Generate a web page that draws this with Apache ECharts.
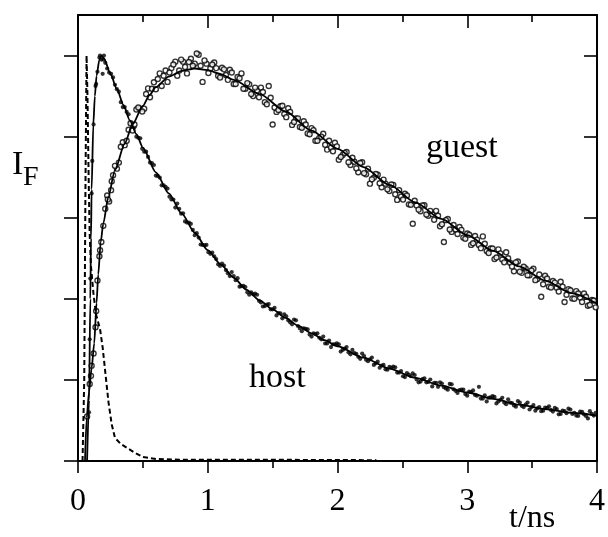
<!DOCTYPE html>
<html>
<head>
<meta charset="utf-8">
<script src="https://cdn.jsdelivr.net/npm/echarts@6/dist/echarts.min.js"></script>
<style>
  html, body { margin: 0; padding: 0; background: #fff; }
  #chart { width: 608px; height: 537px; }
</style>
</head>
<body>
<div id="chart"></div>
<script>
// Fluorescence decay of host and guest after pulsed excitation (t in ns).

// Channel times of the measured decays (two interleaved channel sets)
const sampleT = [
  0.09, 0.12, 0.15, 0.18, 0.21, 0.24, 0.27, 0.30, 0.33, 0.36, 0.39, 0.42, 0.45, 0.48, 0.51,
  0.54, 0.57, 0.60, 0.63, 0.66, 0.69, 0.72, 0.75, 0.78, 0.81, 0.84, 0.87, 0.90, 0.93, 0.96,
  0.99, 1.02, 1.05, 1.08, 1.11, 1.14, 1.17, 1.20, 1.23, 1.26, 1.29, 1.32, 1.35, 1.38, 1.41,
  1.44, 1.47, 1.50, 1.53, 1.56, 1.59, 1.62, 1.65, 1.68, 1.71, 1.74, 1.77, 1.80, 1.83, 1.86,
  1.89, 1.92, 1.95, 1.98, 2.01, 2.04, 2.07, 2.10, 2.13, 2.16, 2.19, 2.22, 2.25, 2.28, 2.31,
  2.34, 2.37, 2.40, 2.43, 2.46, 2.49, 2.52, 2.55, 2.58, 2.61, 2.64, 2.67, 2.70, 2.73, 2.76,
  2.79, 2.82, 2.85, 2.88, 2.91, 2.94, 2.97, 3.00, 3.03, 3.06, 3.09, 3.12, 3.15, 3.18, 3.21,
  3.24, 3.27, 3.30, 3.33, 3.36, 3.39, 3.42, 3.45, 3.48, 3.51, 3.54, 3.57, 3.60, 3.63, 3.66,
  3.69, 3.72, 3.75, 3.78, 3.81, 3.84, 3.87, 3.90, 3.93, 3.96, 3.99
];
const sampleT2 = [
  0.105, 0.135, 0.165, 0.195, 0.225, 0.255, 0.285, 0.315, 0.345, 0.375, 0.405, 0.435, 0.465, 0.495, 0.525,
  0.555, 0.585, 0.615, 0.645, 0.675, 0.705, 0.735, 0.765, 0.795, 0.825, 0.855, 0.885, 0.915, 0.945, 0.975,
  1.005, 1.035, 1.065, 1.095, 1.125, 1.155, 1.185, 1.215, 1.245, 1.275, 1.305, 1.335, 1.365, 1.395, 1.425,
  1.455, 1.485, 1.515, 1.545, 1.575, 1.605, 1.635, 1.665, 1.695, 1.725, 1.755, 1.785, 1.815, 1.845, 1.875,
  1.905, 1.935, 1.965, 1.995, 2.025, 2.055, 2.085, 2.115, 2.145, 2.175, 2.205, 2.235, 2.265, 2.295, 2.325,
  2.355, 2.385, 2.415, 2.445, 2.475, 2.505, 2.535, 2.565, 2.595, 2.625, 2.655, 2.685, 2.715, 2.745, 2.775,
  2.805, 2.835, 2.865, 2.895, 2.925, 2.955, 2.985, 3.015, 3.045, 3.075, 3.105, 3.135, 3.165, 3.195, 3.225,
  3.255, 3.285, 3.315, 3.345, 3.375, 3.405, 3.435, 3.465, 3.495, 3.525, 3.555, 3.585, 3.615, 3.645, 3.675,
  3.705, 3.735, 3.765, 3.795, 3.825, 3.855, 3.885, 3.915, 3.945, 3.975
];

// Host emission, normalised counts
const hostCounts = [
  0.30, 0.83, 0.96, 0.99, 0.982, 0.958, 0.946, 0.917, 0.885, 0.873, 0.855, 0.824, 0.800, 0.796, 0.763,
  0.750, 0.735, 0.704, 0.699, 0.680, 0.672, 0.645, 0.625, 0.622, 0.611, 0.588, 0.585, 0.557, 0.551, 0.533,
  0.533, 0.511, 0.505, 0.485, 0.487, 0.471, 0.456, 0.456, 0.451, 0.431, 0.429, 0.410, 0.411, 0.410, 0.391,
  0.382, 0.387, 0.374, 0.359, 0.364, 0.362, 0.347, 0.337, 0.347, 0.327, 0.327, 0.325, 0.307, 0.313, 0.304,
  0.307, 0.290, 0.281, 0.288, 0.288, 0.274, 0.281, 0.263, 0.266, 0.257, 0.265, 0.250, 0.251, 0.237, 0.245,
  0.235, 0.226, 0.232, 0.233, 0.218, 0.222, 0.207, 0.213, 0.216, 0.201, 0.196, 0.204, 0.195, 0.184, 0.193,
  0.194, 0.182, 0.176, 0.189, 0.173, 0.175, 0.176, 0.161, 0.170, 0.163, 0.183, 0.154, 0.147, 0.157, 0.158,
  0.147, 0.156, 0.140, 0.144, 0.137, 0.148, 0.136, 0.139, 0.127, 0.138, 0.130, 0.123, 0.132, 0.135, 0.122,
  0.128, 0.116, 0.123, 0.129, 0.116, 0.112, 0.122, 0.115, 0.105, 0.116, 0.119
];
const hostCounts2 = [
  0.66, 0.925, 0.995, 0.99, 0.968, 0.955, 0.928, 0.911, 0.873, 0.861, 0.834, 0.823, 0.797, 0.770, 0.763,
  0.736, 0.730, 0.703, 0.680, 0.676, 0.652, 0.645, 0.635, 0.610, 0.591, 0.588, 0.570, 0.562, 0.534, 0.532,
  0.515, 0.514, 0.498, 0.481, 0.482, 0.463, 0.466, 0.446, 0.430, 0.432, 0.416, 0.416, 0.413, 0.395, 0.381,
  0.386, 0.374, 0.378, 0.365, 0.352, 0.357, 0.342, 0.349, 0.333, 0.320, 0.326, 0.312, 0.315, 0.315, 0.300,
  0.290, 0.297, 0.288, 0.290, 0.270, 0.277, 0.268, 0.274, 0.264, 0.252, 0.259, 0.246, 0.255, 0.241, 0.230,
  0.237, 0.225, 0.230, 0.231, 0.218, 0.209, 0.217, 0.209, 0.212, 0.194, 0.202, 0.194, 0.201, 0.193, 0.183,
  0.191, 0.179, 0.190, 0.177, 0.168, 0.176, 0.165, 0.171, 0.174, 0.161, 0.154, 0.162, 0.156, 0.160, 0.142,
  0.151, 0.144, 0.152, 0.143, 0.134, 0.144, 0.133, 0.144, 0.133, 0.124, 0.133, 0.124, 0.131, 0.126, 0.131,
  0.115, 0.124, 0.118, 0.127, 0.119, 0.111, 0.121, 0.111, 0.123, 0.112
];

// Guest emission, normalised counts
const guestCounts = [
  0.19, 0.265, 0.445, 0.54, 0.622, 0.64, 0.705, 0.721, 0.775, 0.779, 0.817, 0.815, 0.867, 0.868, 0.869,
  0.919, 0.918, 0.917, 0.956, 0.95, 0.935, 0.969, 0.985, 0.963, 0.985, 0.956, 0.992, 0.98, 1.002, 0.935,
  0.98, 0.968, 0.983, 0.95, 0.97, 0.952, 0.965, 0.93, 0.947, 0.956, 0.918, 0.929, 0.90, 0.914, 0.921,
  0.885, 0.925, 0.83, 0.861, 0.875, 0.856, 0.87, 0.829, 0.845, 0.824, 0.838, 0.808, 0.821, 0.79, 0.797,
  0.807, 0.768, 0.773, 0.785, 0.743, 0.755, 0.762, 0.73, 0.738, 0.712, 0.737, 0.707, 0.684, 0.699, 0.706,
  0.675, 0.684, 0.666, 0.681, 0.644, 0.652, 0.659, 0.633, 0.585, 0.63, 0.616, 0.631, 0.605, 0.609, 0.617,
  0.579, 0.54, 0.597, 0.565, 0.571, 0.577, 0.551, 0.561, 0.533, 0.555, 0.533, 0.554, 0.518, 0.524, 0.498,
  0.522, 0.497, 0.515, 0.489, 0.468, 0.492, 0.464, 0.475, 0.458, 0.474, 0.449, 0.405, 0.457, 0.43, 0.444,
  0.427, 0.442, 0.392, 0.424, 0.401, 0.419, 0.403, 0.413, 0.383, 0.397, 0.379
];
const guestCounts2 = [
  0.235, 0.33, 0.505, 0.58, 0.655, 0.668, 0.728, 0.736, 0.786, 0.79, 0.833, 0.83, 0.872, 0.862, 0.905,
  0.897, 0.934, 0.942, 0.925, 0.963, 0.958, 0.978, 0.95, 0.99, 0.972, 0.984, 0.975, 1.005, 0.975, 0.988,
  0.957, 0.978, 0.969, 0.946, 0.966, 0.94, 0.958, 0.93, 0.944, 0.918, 0.932, 0.905, 0.921, 0.897, 0.91,
  0.88, 0.896, 0.872, 0.866, 0.876, 0.848, 0.861, 0.836, 0.845, 0.822, 0.83, 0.806, 0.816, 0.79, 0.80,
  0.78, 0.79, 0.764, 0.776, 0.75, 0.76, 0.737, 0.748, 0.722, 0.735, 0.71, 0.721, 0.695, 0.708, 0.685,
  0.694, 0.67, 0.682, 0.658, 0.668, 0.645, 0.655, 0.632, 0.642, 0.62, 0.63, 0.608, 0.617, 0.595, 0.605,
  0.584, 0.594, 0.571, 0.582, 0.56, 0.57, 0.548, 0.558, 0.537, 0.546, 0.525, 0.536, 0.513, 0.524, 0.502,
  0.512, 0.49, 0.50, 0.48, 0.49, 0.467, 0.479, 0.458, 0.47, 0.446, 0.46, 0.436, 0.45, 0.428, 0.44,
  0.418, 0.43, 0.41, 0.421, 0.40, 0.413, 0.392, 0.405, 0.385, 0.396
];

// Extra channels on the steep rising edges
const hostRise = [
  [0.085, 0.12], [0.095, 0.45], [0.11, 0.74], [0.14, 0.93], [0.17, 1.0], [0.19, 0.955], [0.2, 1.0]
];
const guestRise = [
  [0.07, 0.11], [0.1, 0.21], [0.14, 0.37], [0.17, 0.52], [0.23, 0.645], [0.26, 0.69]
];

// Fitted decay curves
const hostFit = [
  [0.07, 0], [0.085, 0.15], [0.095, 0.4], [0.1, 0.55], [0.105, 0.67], [0.118, 0.83], [0.13, 0.9],
  [0.143, 0.95], [0.165, 0.99], [0.18, 1.0], [0.2, 0.993], [0.25, 0.955], [0.3, 0.917], [0.35, 0.878],
  [0.4, 0.84], [0.45, 0.806], [0.5, 0.773], [0.6, 0.712], [0.7, 0.66], [0.8, 0.61], [0.9, 0.563],
  [1.0, 0.52], [1.1, 0.485], [1.2, 0.452], [1.3, 0.422], [1.4, 0.396], [1.5, 0.374], [1.6, 0.353],
  [1.7, 0.333], [1.8, 0.315], [1.9, 0.298], [2.0, 0.283], [2.2, 0.255], [2.4, 0.228], [2.6, 0.205],
  [2.8, 0.186], [3.0, 0.169], [3.2, 0.153], [3.4, 0.139], [3.6, 0.128], [3.8, 0.119], [4.0, 0.112]
];
const guestFit = [
  [0.054, 0], [0.067, 0.106], [0.085, 0.17], [0.105, 0.229], [0.125, 0.29], [0.143, 0.39],
  [0.156, 0.46], [0.175, 0.54], [0.195, 0.586], [0.233, 0.65], [0.284, 0.717], [0.36, 0.783],
  [0.42, 0.83], [0.5, 0.876], [0.55, 0.902], [0.6, 0.922], [0.7, 0.948], [0.8, 0.962], [0.9, 0.968],
  [1.0, 0.964], [1.1, 0.954], [1.2, 0.94], [1.4, 0.905], [1.6, 0.862], [1.8, 0.815], [2.0, 0.77],
  [2.2, 0.725], [2.4, 0.681], [2.6, 0.638], [2.8, 0.597], [3.0, 0.557], [3.2, 0.518], [3.4, 0.48],
  [3.6, 0.445], [3.8, 0.414], [4.0, 0.388]
];

// Instrument response (excitation pulse)
const pulse = [
  [0.035, 0], [0.048, 0.2], [0.058, 0.7], [0.066, 1.0], [0.073, 0.9], [0.082, 0.7], [0.09, 0.56],
  [0.1, 0.48], [0.12, 0.41], [0.14, 0.36], [0.17, 0.325], [0.19, 0.28], [0.21, 0.22], [0.235, 0.145],
  [0.26, 0.09], [0.285, 0.057], [0.33, 0.042], [0.38, 0.032], [0.44, 0.02], [0.5, 0.01], [0.6, 0.005],
  [0.8, 0.003], [1.5, 0.003], [2.3, 0.002]
];

// Tick positions on the intensity axis
const yTicks = [0, 0.2, 0.4, 0.6, 0.8, 1.0];

const pairUp = (ts, vs) => ts.map((t, i) => [t, vs[i]]);
const hostPoints = pairUp(sampleT, hostCounts).concat(pairUp(sampleT2, hostCounts2), hostRise);
const guestPoints = pairUp(sampleT, guestCounts).concat(pairUp(sampleT2, guestCounts2), guestRise);

const serif = 'Liberation Serif';
const ink = '#000';

const chart = echarts.init(document.getElementById('chart'), null, { renderer: 'canvas' });

const xCommon = {
  type: 'value', min: 0, max: 4, interval: 1,
  axisLine: { show: true, onZero: false, lineStyle: { color: ink, width: 2 } },
  splitLine: { show: false },
  minorSplitLine: { show: false }
};
const yCommon = {
  type: 'value', min: 0, max: 1.1,
  axisLine: { show: true, onZero: false, lineStyle: { color: ink, width: 2 } },
  axisLabel: { show: false },
  splitLine: { show: false }
};

chart.setOption({
  animation: false,
  backgroundColor: '#fff',
  grid: { left: 78, right: 8, top: 15, bottom: 76 },
  xAxis: [
    Object.assign({}, xCommon, {
      position: 'bottom',
      axisTick: { show: true, inside: false, length: 12, lineStyle: { color: ink, width: 1.6 } },
      minorTick: { show: true, splitNumber: 2, length: 7, lineStyle: { color: ink, width: 1.6 } },
      axisLabel: { show: true, color: ink, fontFamily: serif, fontSize: 32, margin: 25 }
    }),
    Object.assign({}, xCommon, {
      position: 'top',
      axisTick: { show: true, inside: true, length: 13, lineStyle: { color: ink, width: 1.6 } },
      minorTick: { show: true, splitNumber: 2, length: 7, lineStyle: { color: ink, width: 1.6 } },
      axisLabel: { show: false }
    })
  ],
  yAxis: [
    Object.assign({}, yCommon, {
      position: 'left',
      axisTick: { show: true, inside: false, length: 14, customValues: yTicks, lineStyle: { color: ink, width: 1.6 } }
    }),
    Object.assign({}, yCommon, {
      position: 'right',
      axisTick: { show: true, inside: true, length: 13, customValues: yTicks, lineStyle: { color: ink, width: 1.6 } }
    })
  ],
  series: [
    {
      name: 'pulse', type: 'line', data: pulse, showSymbol: false, silent: true,
      lineStyle: { color: ink, width: 2, type: [5, 3] }
    },
    {
      name: 'host data', type: 'scatter', data: hostPoints, symbol: 'circle', symbolSize: 4.2,
      itemStyle: { color: ink }
    },
    {
      name: 'guest data', type: 'scatter', data: guestPoints, symbol: 'circle', symbolSize: 5,
      itemStyle: { color: '#fff', borderColor: ink, borderWidth: 1.4 }
    },
    {
      name: 'host fit', type: 'line', data: hostFit, showSymbol: false, smooth: 0.25, smoothMonotone: 'x',
      lineStyle: { color: ink, width: 1.8 }
    },
    {
      name: 'guest fit', type: 'line', data: guestFit, showSymbol: false, smooth: 0.25, smoothMonotone: 'x',
      lineStyle: { color: ink, width: 1.8 }
    }
  ],
  graphic: [
    { type: 'text', left: 12, top: 148, style: { text: 'I', font: '34px "Liberation Serif"', fill: ink } },
    { type: 'text', left: 23, top: 164, style: { text: 'F', font: '28px "Liberation Serif"', fill: ink } },
    { type: 'text', left: 426, top: 131, style: { text: 'guest', font: '34px "Liberation Serif"', fill: ink } },
    { type: 'text', left: 249, top: 361, style: { text: 'host', font: '34px "Liberation Serif"', fill: ink } },
    { type: 'text', left: 509, top: 503, style: { text: 't/ns', font: '32px "Liberation Serif"', fill: ink } }
  ]
});
</script>
</body>
</html>
